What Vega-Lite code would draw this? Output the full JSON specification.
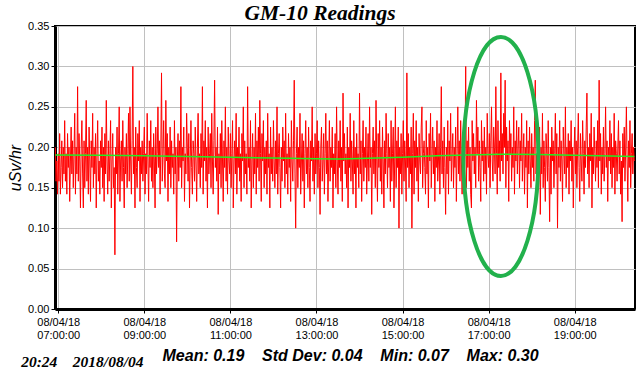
{
"$schema":"https://vega.github.io/schema/vega-lite/v6.json",
"width":580,"height":283,
"autosize":{"type":"none"},
"padding":{"left":55,"top":26,"right":2,"bottom":70},
"background":"white",
"title":{"text":"GM-10 Readings","font":"Liberation Serif","fontSize":21.5,"fontWeight":"bold","fontStyle":"italic","color":"black","anchor":"middle","frame":"group","dx":-25,"dy":7.5,"offset":-14,"baseline":"alphabetic"},
"config":{"view":{"stroke":"black","strokeWidth":2},"axis":{"labelFont":"Liberation Sans","labelFontSize":11,"labelColor":"black","tickColor":"black","tickSize":4,"domainColor":"black","domainWidth":3,"gridColor":"#c0c0c0","gridWidth":1,"gridOpacity":1}},
"encoding":{"x":{"field":"t","type":"temporal","scale":{"domain":[{"year":1900,"month":1,"date":1,"hours":6,"minutes":55,"seconds":30},{"year":1900,"month":1,"date":1,"hours":20,"minutes":24}],"nice":false},"axis":{"values":[{"year":1900,"month":1,"date":1,"hours":7},{"year":1900,"month":1,"date":1,"hours":9},{"year":1900,"month":1,"date":1,"hours":11},{"year":1900,"month":1,"date":1,"hours":13},{"year":1900,"month":1,"date":1,"hours":15},{"year":1900,"month":1,"date":1,"hours":17},{"year":1900,"month":1,"date":1,"hours":19}],"labelExpr":"['08/04/18', timeFormat(datum.value, '%H:%M:%S')]","labelLineHeight":13.5,"labelPadding":3,"labelFlush":false,"labelOverlap":false,"grid":true,"title":"Mean: 0.19\u00a0\u00a0\u00a0\u00a0Std Dev: 0.04\u00a0\u00a0\u00a0\u00a0Min: 0.07\u00a0\u00a0\u00a0\u00a0Max: 0.30","titleFont":"Liberation Sans","titleFontSize":16,"titleFontWeight":"bold","titleFontStyle":"italic","titleColor":"black","titleX":107,"titleY":51,"titleAlign":"left","titleBaseline":"alphabetic","titleAnchor":"start"}}},
"resolve":{"scale":{"y":"independent"},"axis":{"y":"independent"}},
"layer":[
{"data":{"format":{"parse":{"t":"date:'%H:%M'"}},"values":[
{"t":"06:56","v":0.2},{"t":"06:57","v":0.158},{"t":"06:58","v":0.183},{"t":"06:59","v":0.142},
{"t":"07:00","v":0.192},{"t":"07:01","v":0.158},{"t":"07:02","v":0.217},{"t":"07:03","v":0.142},{"t":"07:04","v":0.175},{"t":"07:05","v":0.208},{"t":"07:06","v":0.15},{"t":"07:07","v":0.2},{"t":"07:08","v":0.167},{"t":"07:09","v":0.233},
{"t":"07:10","v":0.158},{"t":"07:11","v":0.192},{"t":"07:12","v":0.142},{"t":"07:13","v":0.217},{"t":"07:14","v":0.175},{"t":"07:15","v":0.2},{"t":"07:16","v":0.133},{"t":"07:17","v":0.183},{"t":"07:18","v":0.225},{"t":"07:19","v":0.167},
{"t":"07:20","v":0.208},{"t":"07:21","v":0.15},{"t":"07:22","v":0.192},{"t":"07:23","v":0.242},{"t":"07:24","v":0.142},{"t":"07:25","v":0.2},{"t":"07:26","v":0.167},{"t":"07:27","v":0.275},{"t":"07:28","v":0.158},{"t":"07:29","v":0.217},
{"t":"07:30","v":0.183},{"t":"07:31","v":0.125},{"t":"07:32","v":0.2},{"t":"07:33","v":0.233},{"t":"07:34","v":0.167},{"t":"07:35","v":0.125},{"t":"07:36","v":0.208},{"t":"07:37","v":0.15},{"t":"07:38","v":0.192},{"t":"07:39","v":0.258},
{"t":"07:40","v":0.158},{"t":"07:41","v":0.2},{"t":"07:42","v":0.142},{"t":"07:43","v":0.225},{"t":"07:44","v":0.183},{"t":"07:45","v":0.133},{"t":"07:46","v":0.208},{"t":"07:47","v":0.175},{"t":"07:48","v":0.242},{"t":"07:49","v":0.15},
{"t":"07:50","v":0.2},{"t":"07:51","v":0.167},{"t":"07:52","v":0.217},{"t":"07:53","v":0.125},{"t":"07:54","v":0.192},{"t":"07:55","v":0.233},{"t":"07:56","v":0.158},{"t":"07:57","v":0.183},{"t":"07:58","v":0.142},{"t":"07:59","v":0.208},
{"t":"08:00","v":0.175},{"t":"08:01","v":0.225},{"t":"08:02","v":0.15},{"t":"08:03","v":0.2},{"t":"08:04","v":0.133},{"t":"08:05","v":0.217},{"t":"08:06","v":0.167},{"t":"08:07","v":0.258},{"t":"08:08","v":0.183},{"t":"08:09","v":0.142},
{"t":"08:10","v":0.208},{"t":"08:11","v":0.158},{"t":"08:12","v":0.192},{"t":"08:13","v":0.233},{"t":"08:14","v":0.125},{"t":"08:15","v":0.183},{"t":"08:16","v":0.217},{"t":"08:17","v":0.15},{"t":"08:18","v":0.175},{"t":"08:19","v":0.067},
{"t":"08:20","v":0.2},{"t":"08:21","v":0.167},{"t":"08:22","v":0.225},{"t":"08:23","v":0.142},{"t":"08:24","v":0.192},{"t":"08:25","v":0.25},{"t":"08:26","v":0.133},{"t":"08:27","v":0.183},{"t":"08:28","v":0.208},{"t":"08:29","v":0.158},
{"t":"08:30","v":0.233},{"t":"08:31","v":0.175},{"t":"08:32","v":0.125},{"t":"08:33","v":0.2},{"t":"08:34","v":0.167},{"t":"08:35","v":0.217},{"t":"08:36","v":0.15},{"t":"08:37","v":0.192},{"t":"08:38","v":0.242},{"t":"08:39","v":0.158},
{"t":"08:40","v":0.25},{"t":"08:41","v":0.183},{"t":"08:42","v":0.142},{"t":"08:43","v":0.208},{"t":"08:44","v":0.3},{"t":"08:45","v":0.167},{"t":"08:46","v":0.2},{"t":"08:47","v":0.125},{"t":"08:48","v":0.225},{"t":"08:49","v":0.175},
{"t":"08:50","v":0.15},{"t":"08:51","v":0.217},{"t":"08:52","v":0.183},{"t":"08:53","v":0.233},{"t":"08:54","v":0.133},{"t":"08:55","v":0.2},{"t":"08:56","v":0.167},{"t":"08:57","v":0.208},{"t":"08:58","v":0.158},{"t":"08:59","v":0.192},
{"t":"09:00","v":0.225},{"t":"09:01","v":0.142},{"t":"09:02","v":0.192},{"t":"09:03","v":0.167},{"t":"09:04","v":0.242},{"t":"09:05","v":0.183},{"t":"09:06","v":0.133},{"t":"09:07","v":0.208},{"t":"09:08","v":0.175},{"t":"09:09","v":0.233},
{"t":"09:10","v":0.158},{"t":"09:11","v":0.2},{"t":"09:12","v":0.15},{"t":"09:13","v":0.217},{"t":"09:14","v":0.183},{"t":"09:15","v":0.125},{"t":"09:16","v":0.225},{"t":"09:17","v":0.167},{"t":"09:18","v":0.192},{"t":"09:19","v":0.25},
{"t":"09:20","v":0.175},{"t":"09:21","v":0.208},{"t":"09:22","v":0.142},{"t":"09:23","v":0.2},{"t":"09:24","v":0.292},{"t":"09:25","v":0.158},{"t":"09:26","v":0.192},{"t":"09:27","v":0.233},{"t":"09:28","v":0.167},{"t":"09:29","v":0.15},
{"t":"09:30","v":0.258},{"t":"09:31","v":0.183},{"t":"09:32","v":0.217},{"t":"09:33","v":0.133},{"t":"09:34","v":0.2},{"t":"09:35","v":0.167},{"t":"09:36","v":0.225},{"t":"09:37","v":0.15},{"t":"09:38","v":0.208},{"t":"09:39","v":0.175},
{"t":"09:40","v":0.192},{"t":"09:41","v":0.142},{"t":"09:42","v":0.233},{"t":"09:43","v":0.167},{"t":"09:44","v":0.2},{"t":"09:45","v":0.083},{"t":"09:46","v":0.183},{"t":"09:47","v":0.217},{"t":"09:48","v":0.158},{"t":"09:49","v":0.208},
{"t":"09:50","v":0.175},{"t":"09:51","v":0.275},{"t":"09:52","v":0.15},{"t":"09:53","v":0.2},{"t":"09:54","v":0.183},{"t":"09:55","v":0.225},{"t":"09:56","v":0.133},{"t":"09:57","v":0.192},{"t":"09:58","v":0.167},{"t":"09:59","v":0.242},
{"t":"10:00","v":0.2},{"t":"10:01","v":0.158},{"t":"10:02","v":0.217},{"t":"10:03","v":0.125},{"t":"10:04","v":0.183},{"t":"10:05","v":0.233},{"t":"10:06","v":0.175},{"t":"10:07","v":0.142},{"t":"10:08","v":0.208},{"t":"10:09","v":0.192},
{"t":"10:10","v":0.158},{"t":"10:11","v":0.225},{"t":"10:12","v":0.183},{"t":"10:13","v":0.133},{"t":"10:14","v":0.2},{"t":"10:15","v":0.242},{"t":"10:16","v":0.167},{"t":"10:17","v":0.192},{"t":"10:18","v":0.15},{"t":"10:19","v":0.217},
{"t":"10:20","v":0.175},{"t":"10:21","v":0.275},{"t":"10:22","v":0.142},{"t":"10:23","v":0.208},{"t":"10:24","v":0.183},{"t":"10:25","v":0.233},{"t":"10:26","v":0.158},{"t":"10:27","v":0.2},{"t":"10:28","v":0.125},{"t":"10:29","v":0.225},
{"t":"10:30","v":0.167},{"t":"10:31","v":0.192},{"t":"10:32","v":0.217},{"t":"10:33","v":0.15},{"t":"10:34","v":0.242},{"t":"10:35","v":0.183},{"t":"10:36","v":0.142},{"t":"10:37","v":0.208},{"t":"10:38","v":0.283},{"t":"10:39","v":0.175},
{"t":"10:40","v":0.2},{"t":"10:41","v":0.158},{"t":"10:42","v":0.225},{"t":"10:43","v":0.117},{"t":"10:44","v":0.192},{"t":"10:45","v":0.167},{"t":"10:46","v":0.217},{"t":"10:47","v":0.15},{"t":"10:48","v":0.233},{"t":"10:49","v":0.183},
{"t":"10:50","v":0.133},{"t":"10:51","v":0.208},{"t":"10:52","v":0.175},{"t":"10:53","v":0.25},{"t":"10:54","v":0.158},{"t":"10:55","v":0.2},{"t":"10:56","v":0.142},{"t":"10:57","v":0.225},{"t":"10:58","v":0.183},{"t":"10:59","v":0.167},
{"t":"11:00","v":0.217},{"t":"11:01","v":0.15},{"t":"11:02","v":0.192},{"t":"11:03","v":0.233},{"t":"11:04","v":0.125},{"t":"11:05","v":0.183},{"t":"11:06","v":0.208},{"t":"11:07","v":0.167},{"t":"11:08","v":0.242},{"t":"11:09","v":0.142},
{"t":"11:10","v":0.2},{"t":"11:11","v":0.175},{"t":"11:12","v":0.225},{"t":"11:13","v":0.158},{"t":"11:14","v":0.192},{"t":"11:15","v":0.133},{"t":"11:16","v":0.217},{"t":"11:17","v":0.183},{"t":"11:18","v":0.25},{"t":"11:19","v":0.15},
{"t":"11:20","v":0.208},{"t":"11:21","v":0.167},{"t":"11:22","v":0.192},{"t":"11:23","v":0.142},{"t":"11:24","v":0.275},{"t":"11:25","v":0.175},{"t":"11:26","v":0.2},{"t":"11:27","v":0.158},{"t":"11:28","v":0.233},{"t":"11:29","v":0.125},
{"t":"11:30","v":0.183},{"t":"11:31","v":0.217},{"t":"11:32","v":0.15},{"t":"11:33","v":0.2},{"t":"11:34","v":0.167},{"t":"11:35","v":0.242},{"t":"11:36","v":0.142},{"t":"11:37","v":0.208},{"t":"11:38","v":0.175},{"t":"11:39","v":0.225},
{"t":"11:40","v":0.158},{"t":"11:41","v":0.258},{"t":"11:42","v":0.192},{"t":"11:43","v":0.133},{"t":"11:44","v":0.217},{"t":"11:45","v":0.183},{"t":"11:46","v":0.233},{"t":"11:47","v":0.15},{"t":"11:48","v":0.2},{"t":"11:49","v":0.167},
{"t":"11:50","v":0.208},{"t":"11:51","v":0.142},{"t":"11:52","v":0.242},{"t":"11:53","v":0.175},{"t":"11:54","v":0.192},{"t":"11:55","v":0.125},{"t":"11:56","v":0.225},{"t":"11:57","v":0.167},{"t":"11:58","v":0.2},{"t":"11:59","v":0.158},
{"t":"12:00","v":0.233},{"t":"12:01","v":0.183},{"t":"12:02","v":0.15},{"t":"12:03","v":0.208},{"t":"12:04","v":0.167},{"t":"12:05","v":0.25},{"t":"12:06","v":0.142},{"t":"12:07","v":0.192},{"t":"12:08","v":0.217},{"t":"12:09","v":0.175},
{"t":"12:10","v":0.125},{"t":"12:11","v":0.2},{"t":"12:12","v":0.158},{"t":"12:13","v":0.225},{"t":"12:14","v":0.183},{"t":"12:15","v":0.208},{"t":"12:16","v":0.15},{"t":"12:17","v":0.242},{"t":"12:18","v":0.167},{"t":"12:19","v":0.192},
{"t":"12:20","v":0.142},{"t":"12:21","v":0.217},{"t":"12:22","v":0.175},{"t":"12:23","v":0.2},{"t":"12:24","v":0.133},{"t":"12:25","v":0.233},{"t":"12:26","v":0.183},{"t":"12:27","v":0.158},{"t":"12:28","v":0.208},{"t":"12:29","v":0.283},
{"t":"12:30","v":0.167},{"t":"12:31","v":0.1},{"t":"12:32","v":0.192},{"t":"12:33","v":0.225},{"t":"12:34","v":0.15},{"t":"12:35","v":0.2},{"t":"12:36","v":0.175},{"t":"12:37","v":0.242},{"t":"12:38","v":0.142},{"t":"12:39","v":0.183},
{"t":"12:40","v":0.217},{"t":"12:41","v":0.158},{"t":"12:42","v":0.208},{"t":"12:43","v":0.125},{"t":"12:44","v":0.192},{"t":"12:45","v":0.233},{"t":"12:46","v":0.167},{"t":"12:47","v":0.2},{"t":"12:48","v":0.15},{"t":"12:49","v":0.225},
{"t":"12:50","v":0.175},{"t":"12:51","v":0.133},{"t":"12:52","v":0.208},{"t":"12:53","v":0.183},{"t":"12:54","v":0.25},{"t":"12:55","v":0.158},{"t":"12:56","v":0.2},{"t":"12:57","v":0.142},{"t":"12:58","v":0.217},{"t":"12:59","v":0.167},
{"t":"13:00","v":0.192},{"t":"13:01","v":0.233},{"t":"13:02","v":0.15},{"t":"13:03","v":0.208},{"t":"13:04","v":0.175},{"t":"13:05","v":0.117},{"t":"13:06","v":0.2},{"t":"13:07","v":0.225},{"t":"13:08","v":0.158},{"t":"13:09","v":0.183},
{"t":"13:10","v":0.217},{"t":"13:11","v":0.142},{"t":"13:12","v":0.192},{"t":"13:13","v":0.242},{"t":"13:14","v":0.167},{"t":"13:15","v":0.208},{"t":"13:16","v":0.133},{"t":"13:17","v":0.183},{"t":"13:18","v":0.233},{"t":"13:19","v":0.158},
{"t":"13:20","v":0.2},{"t":"13:21","v":0.175},{"t":"13:22","v":0.225},{"t":"13:23","v":0.125},{"t":"13:24","v":0.192},{"t":"13:25","v":0.167},{"t":"13:26","v":0.217},{"t":"13:27","v":0.15},{"t":"13:28","v":0.25},{"t":"13:29","v":0.183},
{"t":"13:30","v":0.142},{"t":"13:31","v":0.208},{"t":"13:32","v":0.175},{"t":"13:33","v":0.233},{"t":"13:34","v":0.158},{"t":"13:35","v":0.2},{"t":"13:36","v":0.133},{"t":"13:37","v":0.267},{"t":"13:38","v":0.183},{"t":"13:39","v":0.217},
{"t":"13:40","v":0.167},{"t":"13:41","v":0.192},{"t":"13:42","v":0.15},{"t":"13:43","v":0.225},{"t":"13:44","v":0.125},{"t":"13:45","v":0.2},{"t":"13:46","v":0.175},{"t":"13:47","v":0.242},{"t":"13:48","v":0.158},{"t":"13:49","v":0.208},
{"t":"13:50","v":0.183},{"t":"13:51","v":0.142},{"t":"13:52","v":0.233},{"t":"13:53","v":0.167},{"t":"13:54","v":0.2},{"t":"13:55","v":0.125},{"t":"13:56","v":0.217},{"t":"13:57","v":0.175},{"t":"13:58","v":0.192},{"t":"13:59","v":0.15},
{"t":"14:00","v":0.267},{"t":"14:01","v":0.167},{"t":"14:02","v":0.208},{"t":"14:03","v":0.133},{"t":"14:04","v":0.192},{"t":"14:05","v":0.233},{"t":"14:06","v":0.158},{"t":"14:07","v":0.2},{"t":"14:08","v":0.175},{"t":"14:09","v":0.225},
{"t":"14:10","v":0.142},{"t":"14:11","v":0.183},{"t":"14:12","v":0.217},{"t":"14:13","v":0.158},{"t":"14:14","v":0.25},{"t":"14:15","v":0.175},{"t":"14:16","v":0.2},{"t":"14:17","v":0.117},{"t":"14:18","v":0.192},{"t":"14:19","v":0.225},
{"t":"14:20","v":0.167},{"t":"14:21","v":0.208},{"t":"14:22","v":0.15},{"t":"14:23","v":0.258},{"t":"14:24","v":0.183},{"t":"14:25","v":0.133},{"t":"14:26","v":0.217},{"t":"14:27","v":0.175},{"t":"14:28","v":0.233},{"t":"14:29","v":0.158},
{"t":"14:30","v":0.2},{"t":"14:31","v":0.142},{"t":"14:32","v":0.225},{"t":"14:33","v":0.183},{"t":"14:34","v":0.125},{"t":"14:35","v":0.208},{"t":"14:36","v":0.167},{"t":"14:37","v":0.242},{"t":"14:38","v":0.192},{"t":"14:39","v":0.15},
{"t":"14:40","v":0.217},{"t":"14:41","v":0.175},{"t":"14:42","v":0.2},{"t":"14:43","v":0.133},{"t":"14:44","v":0.233},{"t":"14:45","v":0.158},{"t":"14:46","v":0.192},{"t":"14:47","v":0.225},{"t":"14:48","v":0.125},{"t":"14:49","v":0.183},
{"t":"14:50","v":0.25},{"t":"14:51","v":0.15},{"t":"14:52","v":0.208},{"t":"14:53","v":0.175},{"t":"14:54","v":0.225},{"t":"14:55","v":0.1},{"t":"14:56","v":0.2},{"t":"14:57","v":0.167},{"t":"14:58","v":0.217},{"t":"14:59","v":0.142},
{"t":"15:00","v":0.192},{"t":"15:01","v":0.233},{"t":"15:02","v":0.158},{"t":"15:03","v":0.208},{"t":"15:04","v":0.183},{"t":"15:05","v":0.133},{"t":"15:06","v":0.292},{"t":"15:07","v":0.175},{"t":"15:08","v":0.217},{"t":"15:09","v":0.15},
{"t":"15:10","v":0.2},{"t":"15:11","v":0.167},{"t":"15:12","v":0.225},{"t":"15:13","v":0.1},{"t":"15:14","v":0.192},{"t":"15:15","v":0.242},{"t":"15:16","v":0.142},{"t":"15:17","v":0.208},{"t":"15:18","v":0.175},{"t":"15:19","v":0.233},
{"t":"15:20","v":0.158},{"t":"15:21","v":0.2},{"t":"15:22","v":0.133},{"t":"15:23","v":0.217},{"t":"15:24","v":0.183},{"t":"15:25","v":0.167},{"t":"15:26","v":0.225},{"t":"15:27","v":0.25},{"t":"15:28","v":0.15},{"t":"15:29","v":0.192},
{"t":"15:30","v":0.208},{"t":"15:31","v":0.175},{"t":"15:32","v":0.142},{"t":"15:33","v":0.233},{"t":"15:34","v":0.167},{"t":"15:35","v":0.2},{"t":"15:36","v":0.125},{"t":"15:37","v":0.217},{"t":"15:38","v":0.183},{"t":"15:39","v":0.242},
{"t":"15:40","v":0.15},{"t":"15:41","v":0.192},{"t":"15:42","v":0.225},{"t":"15:43","v":0.167},{"t":"15:44","v":0.208},{"t":"15:45","v":0.133},{"t":"15:46","v":0.2},{"t":"15:47","v":0.175},{"t":"15:48","v":0.233},{"t":"15:49","v":0.158},
{"t":"15:50","v":0.183},{"t":"15:51","v":0.217},{"t":"15:52","v":0.142},{"t":"15:53","v":0.2},{"t":"15:54","v":0.275},{"t":"15:55","v":0.167},{"t":"15:56","v":0.208},{"t":"15:57","v":0.15},{"t":"15:58","v":0.225},{"t":"15:59","v":0.175},
{"t":"16:00","v":0.117},{"t":"16:01","v":0.2},{"t":"16:02","v":0.167},{"t":"16:03","v":0.233},{"t":"16:04","v":0.142},{"t":"16:05","v":0.208},{"t":"16:06","v":0.183},{"t":"16:07","v":0.242},{"t":"16:08","v":0.158},{"t":"16:09","v":0.192},
{"t":"16:10","v":0.217},{"t":"16:11","v":0.15},{"t":"16:12","v":0.2},{"t":"16:13","v":0.175},{"t":"16:14","v":0.225},{"t":"16:15","v":0.133},{"t":"16:16","v":0.192},{"t":"16:17","v":0.25},{"t":"16:18","v":0.167},{"t":"16:19","v":0.208},
{"t":"16:20","v":0.158},{"t":"16:21","v":0.233},{"t":"16:22","v":0.183},{"t":"16:23","v":0.142},{"t":"16:24","v":0.2},{"t":"16:25","v":0.217},{"t":"16:26","v":0.167},{"t":"16:27","v":0.192},{"t":"16:28","v":0.3},{"t":"16:29","v":0.15},
{"t":"16:30","v":0.208},{"t":"16:31","v":0.175},{"t":"16:32","v":0.225},{"t":"16:33","v":0.158},{"t":"16:34","v":0.2},{"t":"16:35","v":0.142},{"t":"16:36","v":0.125},{"t":"16:37","v":0.233},{"t":"16:38","v":0.183},{"t":"16:39","v":0.217},
{"t":"16:40","v":0.167},{"t":"16:41","v":0.2},{"t":"16:42","v":0.15},{"t":"16:43","v":0.258},{"t":"16:44","v":0.192},{"t":"16:45","v":0.225},{"t":"16:46","v":0.158},{"t":"16:47","v":0.208},{"t":"16:48","v":0.175},{"t":"16:49","v":0.133},
{"t":"16:50","v":0.233},{"t":"16:51","v":0.183},{"t":"16:52","v":0.208},{"t":"16:53","v":0.158},{"t":"16:54","v":0.225},{"t":"16:55","v":0.167},{"t":"16:56","v":0.2},{"t":"16:57","v":0.142},{"t":"16:58","v":0.242},{"t":"16:59","v":0.192},
{"t":"17:00","v":0.175},{"t":"17:01","v":0.217},{"t":"17:02","v":0.15},{"t":"17:03","v":0.208},{"t":"17:04","v":0.25},{"t":"17:05","v":0.183},{"t":"17:06","v":0.158},{"t":"17:07","v":0.225},{"t":"17:08","v":0.2},{"t":"17:09","v":0.167},
{"t":"17:10","v":0.275},{"t":"17:11","v":0.192},{"t":"17:12","v":0.142},{"t":"17:13","v":0.233},{"t":"17:14","v":0.175},{"t":"17:15","v":0.208},{"t":"17:16","v":0.158},{"t":"17:17","v":0.292},{"t":"17:18","v":0.183},{"t":"17:19","v":0.217},
{"t":"17:20","v":0.167},{"t":"17:21","v":0.242},{"t":"17:22","v":0.2},{"t":"17:23","v":0.283},{"t":"17:24","v":0.15},{"t":"17:25","v":0.225},{"t":"17:26","v":0.183},{"t":"17:27","v":0.208},{"t":"17:28","v":0.133},{"t":"17:29","v":0.233},
{"t":"17:30","v":0.192},{"t":"17:31","v":0.217},{"t":"17:32","v":0.158},{"t":"17:33","v":0.2},{"t":"17:34","v":0.175},{"t":"17:35","v":0.25},{"t":"17:36","v":0.142},{"t":"17:37","v":0.208},{"t":"17:38","v":0.183},{"t":"17:39","v":0.233},
{"t":"17:40","v":0.167},{"t":"17:41","v":0.2},{"t":"17:42","v":0.225},{"t":"17:43","v":0.15},{"t":"17:44","v":0.208},{"t":"17:45","v":0.183},{"t":"17:46","v":0.242},{"t":"17:47","v":0.158},{"t":"17:48","v":0.192},{"t":"17:49","v":0.217},
{"t":"17:50","v":0.142},{"t":"17:51","v":0.2},{"t":"17:52","v":0.175},{"t":"17:53","v":0.233},{"t":"17:54","v":0.125},{"t":"17:55","v":0.208},{"t":"17:56","v":0.167},{"t":"17:57","v":0.225},{"t":"17:58","v":0.183},{"t":"17:59","v":0.15},
{"t":"18:00","v":0.217},{"t":"18:01","v":0.175},{"t":"18:02","v":0.2},{"t":"18:03","v":0.158},{"t":"18:04","v":0.233},{"t":"18:05","v":0.283},{"t":"18:06","v":0.167},{"t":"18:07","v":0.192},{"t":"18:08","v":0.142},{"t":"18:09","v":0.208},
{"t":"18:10","v":0.183},{"t":"18:11","v":0.225},{"t":"18:12","v":0.117},{"t":"18:13","v":0.2},{"t":"18:14","v":0.167},{"t":"18:15","v":0.242},{"t":"18:16","v":0.15},{"t":"18:17","v":0.208},{"t":"18:18","v":0.175},{"t":"18:19","v":0.133},
{"t":"18:20","v":0.217},{"t":"18:21","v":0.192},{"t":"18:22","v":0.158},{"t":"18:23","v":0.233},{"t":"18:24","v":0.175},{"t":"18:25","v":0.108},{"t":"18:26","v":0.2},{"t":"18:27","v":0.142},{"t":"18:28","v":0.225},{"t":"18:29","v":0.183},
{"t":"18:30","v":0.208},{"t":"18:31","v":0.15},{"t":"18:32","v":0.192},{"t":"18:33","v":0.242},{"t":"18:34","v":0.167},{"t":"18:35","v":0.217},{"t":"18:36","v":0.1},{"t":"18:37","v":0.2},{"t":"18:38","v":0.175},{"t":"18:39","v":0.233},
{"t":"18:40","v":0.158},{"t":"18:41","v":0.208},{"t":"18:42","v":0.183},{"t":"18:43","v":0.133},{"t":"18:44","v":0.225},{"t":"18:45","v":0.192},{"t":"18:46","v":0.167},{"t":"18:47","v":0.25},{"t":"18:48","v":0.15},{"t":"18:49","v":0.2},
{"t":"18:50","v":0.175},{"t":"18:51","v":0.217},{"t":"18:52","v":0.142},{"t":"18:53","v":0.208},{"t":"18:54","v":0.183},{"t":"18:55","v":0.233},{"t":"18:56","v":0.158},{"t":"18:57","v":0.2},{"t":"18:58","v":0.125},{"t":"18:59","v":0.192},
{"t":"19:00","v":0.225},{"t":"19:01","v":0.167},{"t":"19:02","v":0.208},{"t":"19:03","v":0.15},{"t":"19:04","v":0.2},{"t":"19:05","v":0.242},{"t":"19:06","v":0.175},{"t":"19:07","v":0.133},{"t":"19:08","v":0.217},{"t":"19:09","v":0.183},
{"t":"19:10","v":0.158},{"t":"19:11","v":0.233},{"t":"19:12","v":0.192},{"t":"19:13","v":0.142},{"t":"19:14","v":0.208},{"t":"19:15","v":0.175},{"t":"19:16","v":0.225},{"t":"19:17","v":0.267},{"t":"19:18","v":0.167},{"t":"19:19","v":0.2},
{"t":"19:20","v":0.15},{"t":"19:21","v":0.217},{"t":"19:22","v":0.183},{"t":"19:23","v":0.242},{"t":"19:24","v":0.125},{"t":"19:25","v":0.2},{"t":"19:26","v":0.167},{"t":"19:27","v":0.225},{"t":"19:28","v":0.192},{"t":"19:29","v":0.158},
{"t":"19:30","v":0.208},{"t":"19:31","v":0.175},{"t":"19:32","v":0.233},{"t":"19:33","v":0.15},{"t":"19:34","v":0.283},{"t":"19:35","v":0.183},{"t":"19:36","v":0.217},{"t":"19:37","v":0.142},{"t":"19:38","v":0.2},{"t":"19:39","v":0.167},
{"t":"19:40","v":0.225},{"t":"19:41","v":0.158},{"t":"19:42","v":0.192},{"t":"19:43","v":0.25},{"t":"19:44","v":0.175},{"t":"19:45","v":0.208},{"t":"19:46","v":0.133},{"t":"19:47","v":0.2},{"t":"19:48","v":0.183},{"t":"19:49","v":0.233},
{"t":"19:50","v":0.167},{"t":"19:51","v":0.217},{"t":"19:52","v":0.15},{"t":"19:53","v":0.2},{"t":"19:54","v":0.175},{"t":"19:55","v":0.242},{"t":"19:56","v":0.142},{"t":"19:57","v":0.208},{"t":"19:58","v":0.192},{"t":"19:59","v":0.158},
{"t":"20:00","v":0.2},{"t":"20:01","v":0.233},{"t":"20:02","v":0.167},{"t":"20:03","v":0.208},{"t":"20:04","v":0.142},{"t":"20:05","v":0.183},{"t":"20:06","v":0.108},{"t":"20:07","v":0.217},{"t":"20:08","v":0.175},{"t":"20:09","v":0.225},
{"t":"20:10","v":0.158},{"t":"20:11","v":0.2},{"t":"20:12","v":0.25},{"t":"20:13","v":0.183},{"t":"20:14","v":0.133},{"t":"20:15","v":0.208},{"t":"20:16","v":0.175},{"t":"20:17","v":0.233},{"t":"20:18","v":0.15},{"t":"20:19","v":0.192},
{"t":"20:20","v":0.217},{"t":"20:21","v":0.167},{"t":"20:22","v":0.2},{"t":"20:23","v":0.183}
]},
"mark":{"type":"line","color":"#ff0000","strokeWidth":1},
"encoding":{"y":{"field":"v","type":"quantitative","scale":{"domain":[0,0.35],"nice":false},"axis":{"values":[0,0.05,0.1,0.15,0.2,0.25,0.3,0.35],"format":".2f","grid":true,"labelPadding":2,"title":"uSv/hr","titleFont":"Liberation Sans","titleFontSize":16,"titleFontWeight":"normal","titleFontStyle":"italic","titleColor":"black","titleX":-35,"titleY":141.5,"titleAngle":-90,"titleAlign":"center","titleBaseline":"alphabetic"}}}},
{"data":{"format":{"parse":{"t":"date:'%H:%M'"}},"values":[
{"t":"06:56","v":0.1905},{"t":"08:00","v":0.19},{"t":"09:00","v":0.1895},{"t":"10:00","v":0.1885},{"t":"11:00","v":0.1878},{"t":"12:00","v":0.1866},{"t":"13:00","v":0.1857},{"t":"13:30","v":0.1856},{"t":"14:00","v":0.1862},{"t":"15:00","v":0.1878},{"t":"15:48","v":0.1895},{"t":"16:30","v":0.1905},{"t":"17:20","v":0.1915},{"t":"18:08","v":0.1912},{"t":"19:00","v":0.19},{"t":"20:23","v":0.1886}
]},
"mark":{"type":"line","color":"#22ee22","strokeWidth":1.5},
"encoding":{"y":{"field":"v","type":"quantitative","scale":{"domain":[0,0.35],"nice":false},"axis":{"orient":"right","labels":false,"ticks":false,"domain":false,"grid":false,"title":"20:24\u00a0\u00a0\u00a0\u00a02018/08/04","titleFont":"Liberation Serif","titleFontSize":15.5,"titleFontWeight":"bold","titleFontStyle":"italic","titleColor":"black","titleAngle":0,"titleX":-614.3,"titleY":340,"titleAlign":"left","titleBaseline":"alphabetic"}}}},
{"data":{"format":{"parse":{"t":"date:'%H:%M'"}},"values":[{"t":"17:17","v":0.1886}]},
"mark":{"type":"point","shape":"M0,-1A0.314,1,0,1,1,0,1A0.314,1,0,1,1,0,-1Z","size":57121,"filled":false,"color":"#22b14c","stroke":"#22b14c","strokeWidth":4,"opacity":1},
"encoding":{"y":{"field":"v","type":"quantitative","scale":{"domain":[0,0.35],"nice":false},"axis":null}}}
]
}
